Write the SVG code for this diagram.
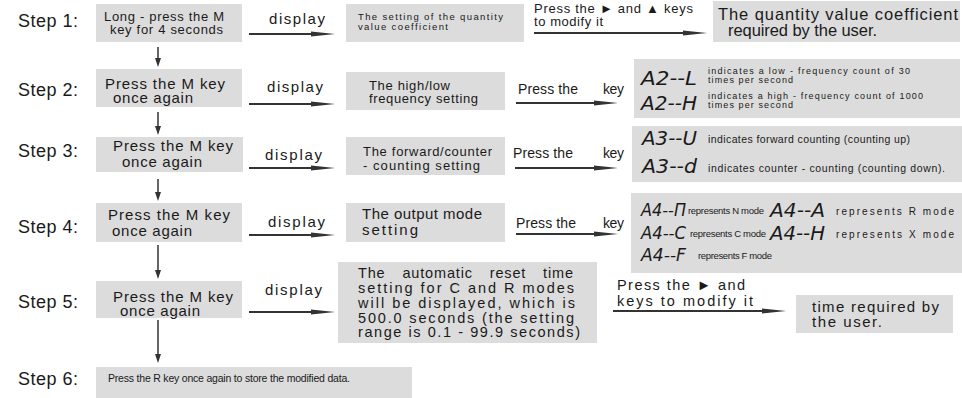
<svg xmlns="http://www.w3.org/2000/svg" width="962" height="398" viewBox="0 0 962 398">
<style>
.bg{fill:#ffffff}
.box{fill:#dcdcdc}
.t{font-family:"Liberation Sans",Arial,sans-serif;fill:#1a1a1a}
.step{font-size:18px}
.lcd{font-family:"DejaVu Sans",sans-serif;font-style:italic;fill:#1a1a1a}
.h{stroke:#333;stroke-width:2;fill:none}
.v{stroke:#333;stroke-width:1.5;fill:none}
</style>
<defs>
<marker id="ah" viewBox="0 0 24 6" refX="6" refY="3" markerWidth="24" markerHeight="6" markerUnits="userSpaceOnUse" orient="auto">
<path d="M0,0.4 L24,3 L0,5.6 z" fill="#333"/>
</marker>
<marker id="dh" viewBox="0 0 9 6" refX="2" refY="3" markerWidth="9" markerHeight="6" markerUnits="userSpaceOnUse" orient="auto">
<path d="M0,0 L9,3 L0,6 z" fill="#333"/>
</marker>
</defs>
<rect class="bg" x="0" y="0" width="962" height="398"/>

<g id="step-labels" class="t step">
<text x="18" y="27" textLength="60">Step 1:</text>
<text x="18" y="96" textLength="60">Step 2:</text>
<text x="18" y="157" textLength="60">Step 3:</text>
<text x="18" y="233" textLength="60">Step 4:</text>
<text x="18" y="308" textLength="60">Step 5:</text>
<text x="18" y="385" textLength="60">Step 6:</text>
</g>

<g id="connectors">
<line class="v" x1="158" y1="47" x2="158" y2="60" marker-end="url(#dh)"/>
<line class="v" x1="158" y1="112" x2="158" y2="128" marker-end="url(#dh)"/>
<line class="v" x1="158" y1="179" x2="158" y2="194" marker-end="url(#dh)"/>
<line class="v" x1="158" y1="245" x2="158" y2="272" marker-end="url(#dh)"/>
<line class="v" x1="158" y1="320" x2="158" y2="356" marker-end="url(#dh)"/>

<line class="h" x1="249" y1="34" x2="317" y2="34" marker-end="url(#ah)"/>
<line class="h" x1="249" y1="104" x2="317" y2="104" marker-end="url(#ah)"/>
<line class="h" x1="249" y1="168" x2="317" y2="168" marker-end="url(#ah)"/>
<line class="h" x1="249" y1="235" x2="317" y2="235" marker-end="url(#ah)"/>
<line class="h" x1="249" y1="312" x2="317" y2="312" marker-end="url(#ah)"/>

<line class="h" x1="534" y1="33" x2="689" y2="33" marker-end="url(#ah)"/>
<line class="h" x1="516" y1="103" x2="600" y2="103" marker-end="url(#ah)"/>
<line class="h" x1="515" y1="168" x2="600" y2="168" marker-end="url(#ah)"/>
<line class="h" x1="516" y1="234" x2="600" y2="234" marker-end="url(#ah)"/>
<line class="h" x1="613" y1="311" x2="768" y2="311" marker-end="url(#ah)"/>

<g class="t" font-size="15">
<text x="269" y="24" textLength="56">display</text>
<text x="267" y="92" textLength="56">display</text>
<text x="265" y="160" textLength="57">display</text>
<text x="268" y="227" textLength="57">display</text>
<text x="265" y="295" textLength="57">display</text>
</g>
<g class="t" font-size="13">
<text x="534" y="13" textLength="159">Press the ► and ▲ keys</text>
<text x="534" y="26" textLength="69">to modify it</text>
</g>
<g class="t" font-size="14">
<text x="518" y="94" textLength="60">Press the</text>
<text x="603" y="94" textLength="21">key</text>
<text x="513" y="158" textLength="60">Press the</text>
<text x="603" y="158" textLength="21">key</text>
<text x="516" y="228" textLength="60">Press the</text>
<text x="603" y="228" textLength="21">key</text>
</g>
<g class="t" font-size="14.5">
<text x="617" y="290" textLength="128">Press the ► and</text>
<text x="617" y="306" textLength="136">keys to modify it</text>
</g>
</g>

<g id="step1">
<rect class="box" x="96" y="4" width="146" height="38"/>
<text class="t" font-size="13" x="104" y="21" textLength="120">Long - press the M</text>
<text class="t" font-size="13" x="110" y="34" textLength="113">key for 4 seconds</text>
</g>
<g id="quantity-setting">
<rect class="box" x="346" y="4" width="178" height="38"/>
<text class="t" font-size="9.5" x="358" y="20" textLength="145">The setting of the quantity</text>
<text class="t" font-size="9.5" x="358" y="30" textLength="90">value coefficient</text>
</g>
<g id="quantity-result">
<rect class="box" x="713" y="1" width="247" height="41"/>
<text class="t" font-size="16.5" x="718" y="20" textLength="240">The quantity value coefficient</text>
<text class="t" font-size="16.5" x="728" y="36" textLength="149">required by the user.</text>
</g>

<g id="step2">
<rect class="box" x="96" y="69" width="146" height="38"/>
<text class="t" font-size="15" x="105" y="89" textLength="120">Press the M key</text>
<text class="t" font-size="15" x="113" y="103" textLength="80">once again</text>
</g>
<g id="frequency-setting">
<rect class="box" x="346" y="72" width="159" height="38"/>
<text class="t" font-size="13" x="369" y="90" textLength="81">The high/low</text>
<text class="t" font-size="13" x="369" y="103" textLength="109">frequency setting</text>
</g>
<g id="frequency-options">
<rect class="box" x="634" y="59" width="326" height="59"/>
<text class="lcd" font-size="19" x="641" y="85" textLength="56" lengthAdjust="spacingAndGlyphs">A2--L</text>
<text class="t" font-size="9" x="708" y="74" textLength="202">indicates a low - frequency count of 30</text>
<text class="t" font-size="9" x="708" y="83" textLength="85">times per second</text>
<text class="lcd" font-size="19" x="641" y="110" textLength="56" lengthAdjust="spacingAndGlyphs">A2--H</text>
<text class="t" font-size="9" x="708" y="99" textLength="215">indicates a high - frequency count of 1000</text>
<text class="t" font-size="9" x="708" y="108" textLength="85">times per second</text>
</g>

<g id="step3">
<rect class="box" x="96" y="137" width="147" height="35"/>
<text class="t" font-size="15" x="113" y="151" textLength="120">Press the M key</text>
<text class="t" font-size="15" x="122" y="167" textLength="80">once again</text>
</g>
<g id="counting-setting">
<rect class="box" x="346" y="137" width="159" height="38"/>
<text class="t" font-size="13" x="363" y="156" textLength="129">The forward/counter</text>
<text class="t" font-size="13" x="363" y="170" textLength="117">- counting setting</text>
</g>
<g id="counting-options">
<rect class="box" x="632" y="126" width="330" height="56"/>
<text class="lcd" font-size="19" x="642" y="145" textLength="55" lengthAdjust="spacingAndGlyphs">A3--U</text>
<text class="t" font-size="10.5" x="708" y="143" textLength="202">indicates forward counting (counting up)</text>
<text class="lcd" font-size="19" x="642" y="173" textLength="55" lengthAdjust="spacingAndGlyphs">A3--d</text>
<text class="t" font-size="10.5" x="708" y="172" textLength="237">indicates counter - counting (counting down).</text>
</g>

<g id="step4">
<rect class="box" x="96" y="203" width="146" height="39"/>
<text class="t" font-size="15" x="108" y="220" textLength="122">Press the M key</text>
<text class="t" font-size="15" x="112" y="236" textLength="80">once again</text>
</g>
<g id="output-mode-setting">
<rect class="box" x="346" y="203" width="159" height="39"/>
<text class="t" font-size="15" x="362" y="219" textLength="120">The output mode</text>
<text class="t" font-size="15" x="362" y="235" textLength="56">setting</text>
</g>
<g id="mode-options">
<rect class="box" x="631" y="193" width="331" height="80"/>
<text class="lcd" font-size="18" x="641" y="216" textLength="45" lengthAdjust="spacingAndGlyphs">A4--Π</text>
<text class="t" font-size="9.5" x="688" y="214" textLength="76">represents N mode</text>
<text class="lcd" font-size="19" x="770" y="217" textLength="55" lengthAdjust="spacingAndGlyphs">A4--A</text>
<text class="t" font-size="10" x="836" y="215" textLength="118">represents R mode</text>
<text class="lcd" font-size="18" x="641" y="239" textLength="45" lengthAdjust="spacingAndGlyphs">A4--C</text>
<text class="t" font-size="9.5" x="690" y="237" textLength="76">represents C mode</text>
<text class="lcd" font-size="19" x="770" y="240" textLength="55" lengthAdjust="spacingAndGlyphs">A4--H</text>
<text class="t" font-size="10" x="836" y="238" textLength="118">represents X mode</text>
<text class="lcd" font-size="18" x="641" y="261" textLength="45" lengthAdjust="spacingAndGlyphs">A4--F</text>
<text class="t" font-size="9.5" x="698" y="259" textLength="74">represents F mode</text>
</g>

<g id="step5">
<rect class="box" x="96" y="281" width="146" height="37"/>
<text class="t" font-size="15" x="113" y="302" textLength="120">Press the M key</text>
<text class="t" font-size="15" x="120" y="316" textLength="80">once again</text>
</g>
<g id="reset-time-setting">
<rect class="box" x="338" y="262" width="259" height="81"/>
<text class="t" font-size="14.5" x="358" y="278" textLength="215" word-spacing="12">The automatic reset time</text>
<text class="t" font-size="14.5" x="358" y="293" textLength="216">setting for C and R modes</text>
<text class="t" font-size="14.5" x="358" y="308" textLength="217">will be displayed, which is</text>
<text class="t" font-size="14.5" x="358" y="323" textLength="216">500.0 seconds (the setting</text>
<text class="t" font-size="14.5" x="358" y="337" textLength="222">range is 0.1 - 99.9 seconds)</text>
</g>
<g id="reset-time-result">
<rect class="box" x="796" y="295" width="157" height="38"/>
<text class="t" font-size="15" x="812" y="312" textLength="127">time required by</text>
<text class="t" font-size="15" x="812" y="327" textLength="70">the user.</text>
</g>

<g id="step6">
<rect class="box" x="96" y="367" width="316" height="31"/>
<text class="t" font-size="10.5" x="108" y="382" textLength="242">Press the R key once again to store the modified data.</text>
</g>
</svg>
